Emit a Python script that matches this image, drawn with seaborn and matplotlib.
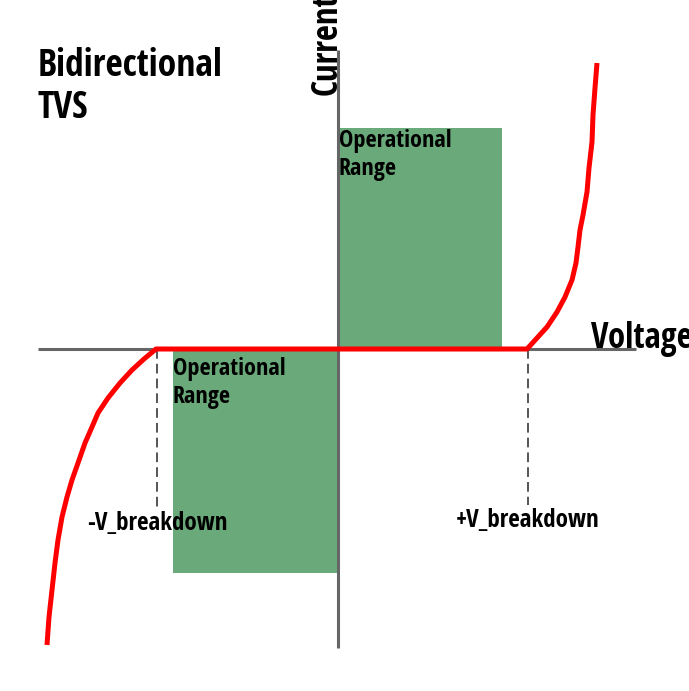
import matplotlib
matplotlib.use("Agg")
import matplotlib.pyplot as plt
import seaborn as sns
import pandas as pd

# I-V curve of a bidirectional TVS diode (arbitrary units)
VOLT = [-2.91, -2.89, -2.86, -2.83, -2.80, -2.76, -2.71, -2.66, -2.60,
        -2.53, -2.46, -2.40, -2.30, -2.18, -2.06, -1.94, -1.82,
        1.89, 1.99, 2.09, 2.19, 2.27, 2.34, 2.38, 2.40, 2.42, 2.45,
        2.49, 2.51, 2.54, 2.55, 2.57, 2.59]
CURR = [-2.96, -2.68, -2.41, -2.14, -1.91, -1.68, -1.48, -1.31, -1.14,
        -0.94, -0.78, -0.64, -0.49, -0.34, -0.21, -0.10, 0.0,
        0.0, 0.11, 0.22, 0.37, 0.52, 0.69, 0.86, 1.02, 1.19, 1.34,
        1.57, 1.81, 2.07, 2.34, 2.61, 2.86]

V_BREAK = [-1.81, 1.90]
BREAK_LABELS = ["-V_breakdown", "+V_breakdown"]
BREAK_DROP = [-1.59, -1.56]

# operational range boxes: (left, width, height)
OP_LEFT = [0.0, -1.65]
OP_WIDTH = [1.64, 1.65]
OP_HEIGHT = [2.21, -2.24]

AXIS_X = [-3.00, 2.98]
AXIS_Y = [-2.99, 2.99]

TITLE = "Bidirectional\nTVS"
XLABEL = "Voltage"
YLABEL = "Current"
OP_LABEL = "Operational\nRange"

sns.set_theme(style="white")
FONT = ["Open Sans Condensed", "Liberation Sans Narrow", "Open Sans", "DejaVu Sans"]
plt.rcParams["font.family"] = FONT
plt.rcParams["text.color"] = "black"

GREEN = "#6aaa7a"
RED = "#ff0000"
GRAY = "#666666"

fig = plt.figure(figsize=(6.89, 6.91), dpi=100)
ax = fig.add_axes([0, 0, 1, 1])
ax.set_xlim(-3.38, 3.51)
ax.set_ylim(-3.42, 3.49)
ax.axis("off")

# operational range rectangles
ax.bar(OP_LEFT, OP_HEIGHT, width=OP_WIDTH, align="edge", color=GREEN,
       linewidth=0, zorder=1)

# axes lines
ax.plot(AXIS_X, [0, 0], color=GRAY, lw=2.2, zorder=2, solid_capstyle="butt")
ax.plot([0, 0], AXIS_Y, color=GRAY, lw=2.2, zorder=2, solid_capstyle="butt")

# breakdown markers
for v, drop, lab in zip(V_BREAK, BREAK_DROP, BREAK_LABELS):
    ax.plot([v, v], [0, drop], color="#555555", lw=1.4, dashes=(5, 2.6), zorder=2)
    ax.text(v, drop - 0.22, lab, ha="center", va="baseline", fontsize=18,
            fontweight="bold")

# the I-V curve
df = pd.DataFrame({"V": VOLT, "I": CURR})
sns.lineplot(data=df, x="V", y="I", sort=False, color=RED, lw=3.6, ax=ax,
             zorder=4, solid_joinstyle="round", solid_capstyle="butt")

# labels
ax.text(-3.00, 3.02, TITLE, ha="left", va="top", fontsize=27,
        fontweight="bold", linespacing=1.15)
ax.text(2.53, 0.01, XLABEL, ha="left", va="baseline", fontsize=25,
        fontweight="bold")
ax.text(0.08, 2.54, YLABEL, ha="right", va="bottom", rotation=90,
        fontsize=25, fontweight="bold")
ax.text(0.01, 2.20, OP_LABEL, ha="left", va="top", fontsize=17.5,
        fontweight="bold", linespacing=1.2, zorder=5)
ax.text(-1.65, -0.08, OP_LABEL, ha="left", va="top", fontsize=17.5,
        fontweight="bold", linespacing=1.2, zorder=5)

fig.savefig("out.png", dpi=100)
